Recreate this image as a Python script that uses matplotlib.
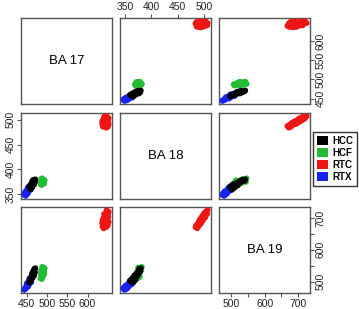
import matplotlib.pyplot as plt
from matplotlib.patches import Patch

plt.rcParams['font.family'] = ['Liberation Sans', 'DejaVu Sans']

var_names = ['BA 17', 'BA 18', 'BA 19']
groups = ['HCC', 'HCF', 'RTC', 'RTX']
colors = {'HCC': '#000000', 'HCF': '#22bb33', 'RTC': '#ee1515', 'RTX': '#1a22ee'}

# values: (BA 17, BA 18, BA 19) per group
hcc_ba17 = [456, 459, 457, 461, 458, 462, 460, 464, 459, 463, 461, 466, 462, 465,
            468, 463, 467, 465, 469, 466, 470, 468, 471, 464, 460, 467, 462, 469]
hcc_ba18 = [363, 360, 366, 362, 368, 364, 370, 365, 367, 371, 366, 373, 369, 374,
            370, 376, 372, 377, 373, 379, 375, 378, 380, 368, 364, 376, 369, 377]
hcc_ba19 = [497, 502, 499, 506, 503, 509, 505, 512, 510, 514, 511, 518, 515, 521,
            519, 525, 522, 529, 526, 533, 530, 537, 542, 520, 504, 531, 513, 540]

hcf_ba17 = [484, 486, 488, 490, 492, 487, 489, 491, 493, 485, 488, 490,
            492, 494, 486, 489, 491, 487, 490, 493, 488, 485, 492, 489]
hcf_ba18 = [370, 372, 374, 371, 373, 376, 378, 375, 377, 374, 379, 380,
            376, 378, 381, 373, 375, 369, 377, 372, 382, 376, 379, 374]
hcf_ba19 = [510, 514, 518, 522, 526, 512, 516, 520, 524, 528, 530, 534,
            538, 542, 536, 532, 544, 508, 540, 528, 546, 521, 533, 517]

rtc_ba17 = [640, 646, 637, 650, 643, 638, 648, 641, 652, 636, 645, 639, 649, 642, 647,
            637, 651, 644, 640, 648, 643, 650, 646, 641, 652, 647, 638, 644, 649, 645]
rtc_ba18 = [487, 484, 489, 486, 492, 486, 494, 488, 491, 494, 491, 495, 493, 497, 494,
            498, 496, 500, 502, 498, 503, 500, 501, 506, 503, 507, 493, 492, 502, 496]
rtc_ba19 = [668, 672, 673, 677, 679, 678, 684, 682, 688, 685, 690, 687, 696, 692, 698,
            694, 704, 700, 702, 709, 706, 712, 716, 713, 720, 725, 681, 695, 705, 689]

rtx_ba17 = [444, 447, 445, 449, 446, 450, 448, 452, 449, 453, 451, 455, 450, 454, 456,
            452, 457, 455, 459, 454, 458, 461, 456, 460, 462, 458, 461, 447, 453, 457]
rtx_ba18 = [349, 347, 352, 349, 354, 350, 356, 352, 357, 353, 356, 359, 357, 361, 358,
            363, 360, 364, 359, 365, 361, 366, 363, 367, 365, 366, 368, 352, 359, 361]
rtx_ba19 = [474, 479, 476, 482, 480, 485, 481, 488, 486, 484, 491, 489, 494, 490, 497,
            495, 499, 493, 502, 500, 505, 498, 508, 503, 510, 512, 506, 478, 492, 501]

data = {
    'HCC': [hcc_ba17, hcc_ba18, hcc_ba19],
    'HCF': [hcf_ba17, hcf_ba18, hcf_ba19],
    'RTC': [rtc_ba17, rtc_ba18, rtc_ba19],
    'RTX': [rtx_ba17, rtx_ba18, rtx_ba19],
}

ticks = [[450, 500, 550, 600], [350, 400, 450, 500], [500, 550, 600, 650, 700]]
tick_labels = [['450', '500', '550', '600'], ['350', '400', '450', '500'],
               ['500', '', '600', '', '700']]

# axis limits like R: data range + 4%
lims = []
for k in range(3):
    vals = [v for g in groups for v in data[g][k]]
    lo, hi = min(vals), max(vals)
    pad = 0.04 * (hi - lo)
    lims.append((lo - pad, hi + pad))

W, H = 359, 309
fig = plt.figure(figsize=(W / 100, H / 100), dpi=100)

col_x = [21, 120, 219]
row_y = [18, 113, 207]
pw, ph = 91, 86

frame_col = '#555555'
for i in range(3):
    for j in range(3):
        ax = fig.add_axes([col_x[j] / W, 1 - (row_y[i] + ph) / H, pw / W, ph / H])
        for s in ax.spines.values():
            s.set_color(frame_col)
            s.set_linewidth(1.0)
        ax.set_xlim(lims[j])
        ax.set_ylim(lims[i])
        ax.tick_params(direction='out', length=3, width=0.8, color=frame_col,
                       labelsize=7.5, pad=1, labelcolor='#222222')
        ax.tick_params(bottom=False, left=False, labelbottom=False, labelleft=False)
        if i == j:
            ax.text(0.5, 0.5, var_names[i], transform=ax.transAxes,
                    ha='center', va='center', fontsize=9.5)
            ax.set_xticks([])
            ax.set_yticks([])
        else:
            for g in ['HCF', 'RTC', 'RTX', 'HCC']:
                ax.scatter(data[g][j], data[g][i], s=18, c=colors[g],
                           edgecolors='none', zorder=3)
        # outer axes the way R pairs() puts them
        if i == 2 and j in (0, 2):
            ax.set_xticks(ticks[j], tick_labels[j])
            ax.tick_params(axis='x', bottom=True, labelbottom=True)
        if i == 0 and j == 1:
            ax.set_xticks(ticks[j], tick_labels[j])
            ax.tick_params(axis='x', top=True, labeltop=True)
        if j == 0 and i == 1:
            ax.set_yticks(ticks[i], tick_labels[i])
            ax.tick_params(axis='y', left=True, labelleft=True, labelrotation=90)
            for t in ax.get_yticklabels():
                t.set_va('center')
        if j == 2 and i in (0, 2):
            ax.set_yticks(ticks[i], tick_labels[i])
            ax.tick_params(axis='y', right=True, labelright=True, labelrotation=90)
            for t in ax.get_yticklabels():
                t.set_va('center')
        if i != j:
            if not (i == 2 and j in (0, 2)) and not (i == 0 and j == 1):
                ax.set_xticks([])
            if not (j == 0 and i == 1) and not (j == 2 and i in (0, 2)):
                ax.set_yticks([])

handles = [Patch(facecolor=colors[g], edgecolor='none', label=g) for g in groups]
leg = fig.legend(handles=handles, loc='upper left',
                 bbox_to_anchor=(313 / W, 1 - 132 / H),
                 prop={'size': 7, 'weight': 'bold'},
                 handlelength=1.1, handleheight=1.1, handletextpad=0.5,
                 labelspacing=0.2, borderpad=0.4, borderaxespad=0,
                 fancybox=False, frameon=True)
leg.get_frame().set_edgecolor('black')
leg.get_frame().set_linewidth(1.0)

fig.savefig('out.png', dpi=100)
